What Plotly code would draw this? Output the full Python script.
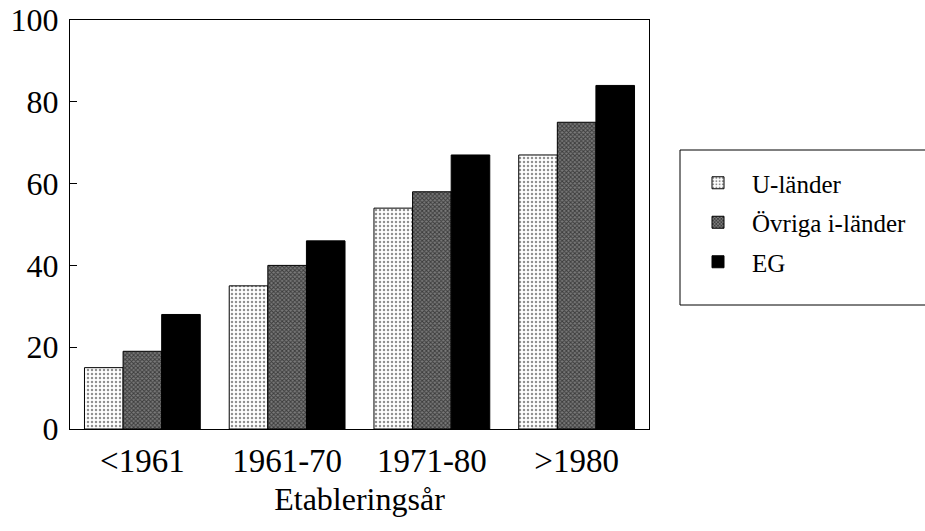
import plotly.graph_objects as go

categories = ["<1961", "1961-70", "1971-80", ">1980"]
u_lander = [15, 35, 54, 67]
ovriga = [19, 40, 58, 75]
eg = [28, 46, 67, 84]
series_names = ["U-länder", "Övriga i-länder", "EG"]

FONT = "Liberation Serif"
PL, PR, PT, PB = 70, 649, 20, 429
W, H = 925, 531
pw, ph = PR - PL, PB - PT

def px_x(x):
    return (x - PL) / pw

def px_y(y):
    return (PB - y) / ph

fig = go.Figure()
fig.add_trace(go.Bar(
    x=categories, y=u_lander, name=series_names[0], legendgroup="a",
    marker=dict(color="white", line=dict(color="black", width=1),
                pattern=dict(shape=".", fgcolor="#222222", bgcolor="white",
                             size=4, solidity=0.3)),
))
fig.add_trace(go.Bar(
    x=categories, y=ovriga, name=series_names[1], legendgroup="b",
    marker=dict(color="white", line=dict(color="black", width=1),
                pattern=dict(shape="x", fgcolor="#000000", bgcolor="#7a7a7a",
                             size=3, solidity=0.55)),
))
fig.add_trace(go.Bar(
    x=categories, y=eg, name=series_names[2], legendgroup="c",
    marker=dict(color="black", line=dict(color="black", width=1)),
))

fig.update_layout(
    width=W, height=H,
    margin=dict(l=PL, r=W - PR, t=PT, b=H - PB, autoexpand=False),
    paper_bgcolor="white", plot_bgcolor="white",
    barmode="group", bargap=0.2, bargroupgap=0,
    font=dict(family=FONT, size=30, color="black"),
    showlegend=True,
    legend=dict(
        x=px_x(684), y=px_y(160), xanchor="left", yanchor="top",
        borderwidth=0, bgcolor="rgba(0,0,0,0)",
        font=dict(family=FONT, size=25, color="black"),
        tracegroupgap=4, itemwidth=58,
    ),
    shapes=[dict(
        type="rect", xref="paper", yref="paper",
        x0=px_x(680), x1=px_x(950), y0=px_y(305), y1=px_y(150),
        line=dict(color="black", width=1), fillcolor="rgba(0,0,0,0)",
    )],
)
fig.update_xaxes(
    showline=True, linecolor="black", linewidth=1, mirror=True,
    ticks="", showgrid=False, automargin=False,
    tickfont=dict(family=FONT, size=33), ticklabelstandoff=2,
    title=dict(text="Etableringsår", font=dict(family=FONT, size=32), standoff=10),
)
fig.update_yaxes(
    range=[0, 100], dtick=20, showline=True, linecolor="black", linewidth=1,
    mirror=True, ticks="inside", ticklen=7, tickcolor="black", showgrid=False,
    tickfont=dict(family=FONT, size=32), zeroline=False, automargin=False,
    ticklabelstandoff=4, ticklabeloverflow="allow",
)

fig.write_html(
    "out.html",
    config={"displayModeBar": False},
    post_script="document.body.style.margin='0';document.body.style.overflow='hidden';",
)
